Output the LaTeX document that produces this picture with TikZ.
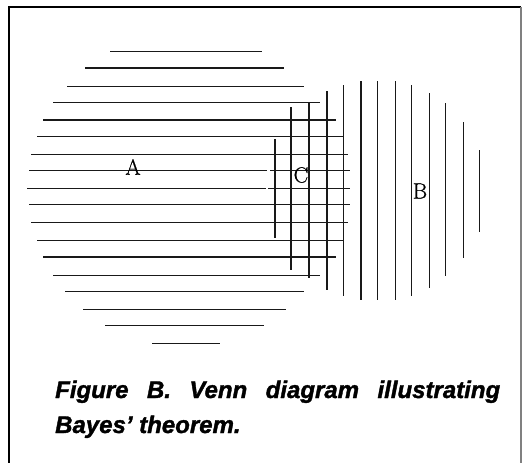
\documentclass[tikz,border=0pt]{standalone}
\usepackage{fontspec}
\newfontfamily\capfont{Liberation Sans Bold Italic}[FakeBold=1.5]
\newfontfamily\setfont{Latin Modern Roman}[FakeBold=0.6]
\usetikzlibrary{positioning}

\begin{document}
\begin{tikzpicture}[
    x=1pt, y=-1pt,
    hatch/.style={line width=1.3pt, black!90},
    setname/.style={inner sep=0pt, font=\setfont\fontsize{22}{22}\selectfont},
    caption/.style={inner sep=0pt, anchor=base west, font=\capfont\bfseries\fontsize{24}{24}\selectfont}
]
\useasboundingbox (0,0) rectangle (522,463);

% Frame
\draw[line width=1.5pt] (9,463) -- (9,7) -- (521,7);
\draw[line width=1.5pt, black!50] (521,7) -- (521,463);

% Set A (horizontal hatching)
\foreach \y/\xa/\xb in {51.7/110/262, 68/85/284, 86.3/67/304, 102.3/53/320,
    120/43/336, 136.3/37/343, 154.3/31/348, 204.7/29/350, 222.7/31/348,
    240.7/37/343, 257/43/336, 275.3/53/320, 291.3/65/304, 309.3/83/286,
    325.3/105/264, 343.3/152/220}
  \draw[hatch] (\xa,\y) -- (\xb,\y);
\draw[hatch] (29,170.7) -- (267,170.7) (270,170.7) -- (350,170.7);
\draw[hatch] (27,188.7) -- (265.7,188.7) (268,188.7) -- (350,188.7);

% Set B (vertical hatching)
\foreach \x/\ya/\yb in {275/139/238, 291/107/270, 309/102/278, 327/91/290,
    343.3/85/296, 361/81/300, 377.3/81/300, 395.3/81/300, 411.3/85/296,
    429.3/93/288, 445.3/103/276, 463.3/122/258, 479.3/150/232}
  \draw[hatch] (\x,\ya) -- (\x,\yb);

% Labels
\node[setname] (a) at (133,167) {A};
\node[setname] (c) at (301,175) {C};
\node[setname] (b) at (420,191) {B};

% Caption
\node[caption] (cap1) at (55,398) {\makebox[445pt][s]{Figure B. Venn diagram illustrating}};
\node[caption] (cap2) at (55,433) {Bayes’ theorem.};
\end{tikzpicture}
\end{document}
